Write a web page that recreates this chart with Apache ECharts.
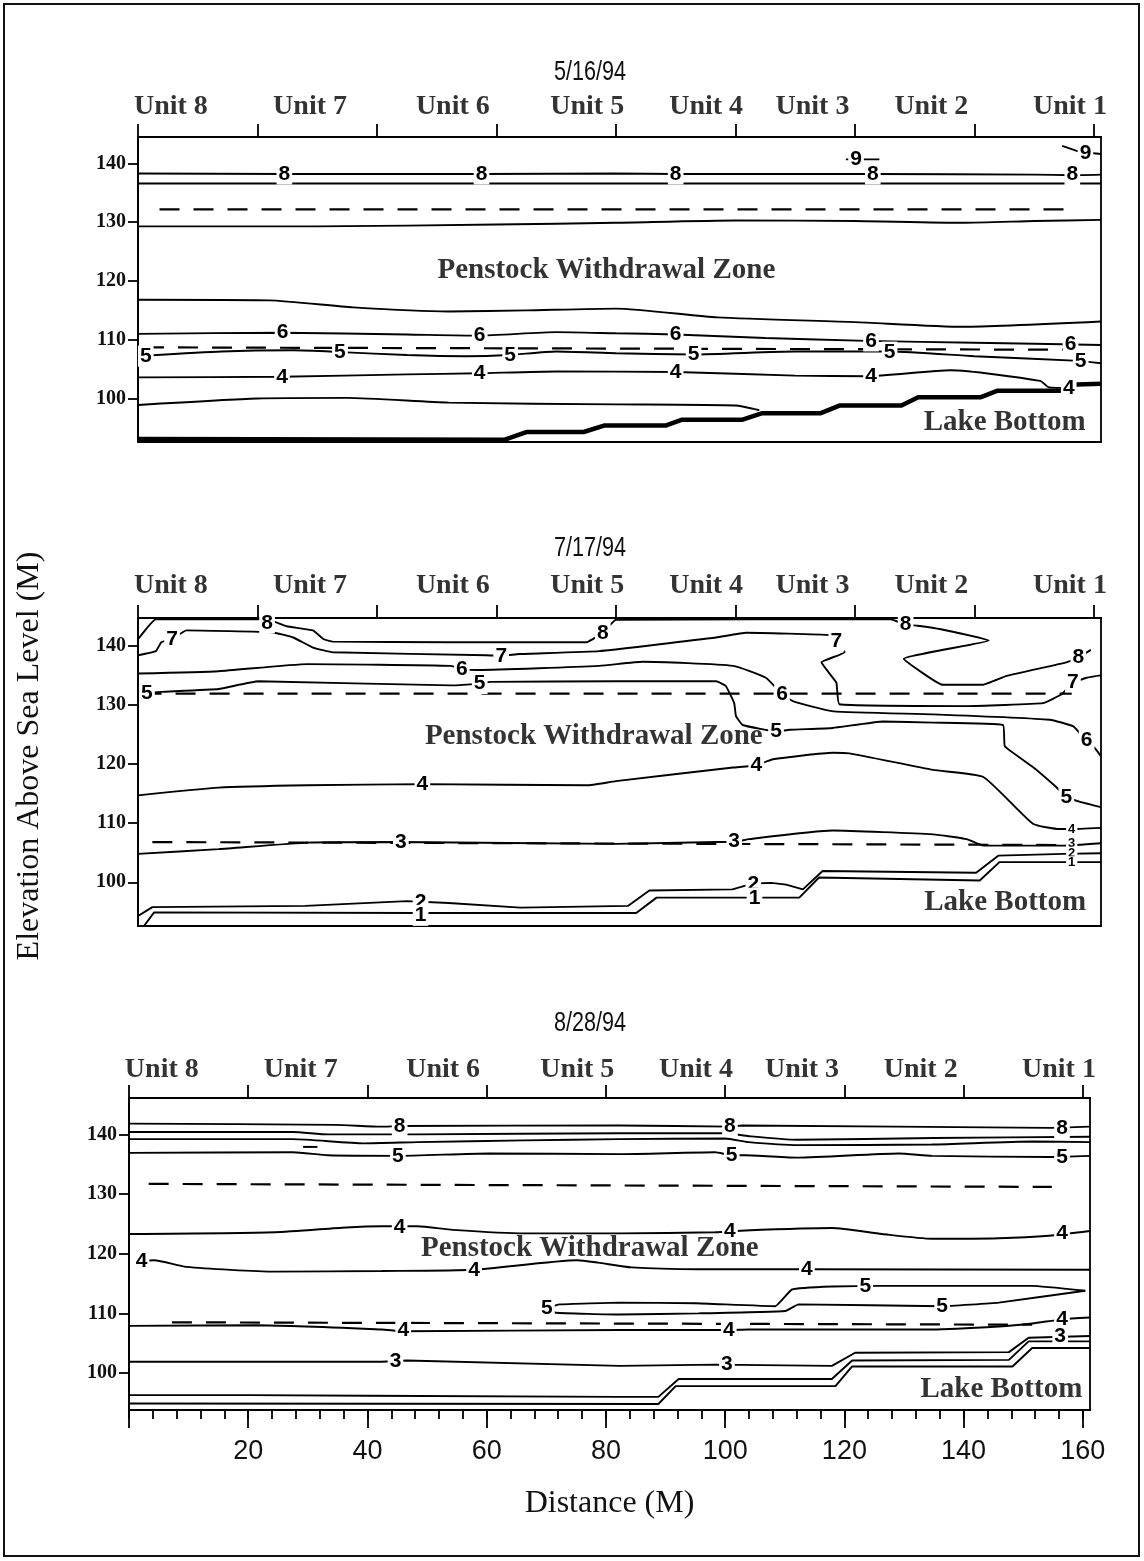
<!DOCTYPE html>
<html><head><meta charset="utf-8">
<script src="https://cdn.jsdelivr.net/npm/echarts@6/dist/echarts.min.js"></script>
<style>html,body{margin:0;padding:0;background:#fff}#c{width:1144px;height:1561px}</style>
</head><body><div id="c"></div>
<script>
// ---------------- DATA ----------------
const X_MAX = 161.2;
const unitNames = ['Unit 8','Unit 7','Unit 6','Unit 5','Unit 4','Unit 3','Unit 2','Unit 1'];
const unitPos = [5.5, 28.8, 52.7, 75.2, 95.1, 112.9, 132.8, 156.0];
const panelTitles = ['5/16/94','7/17/94','8/28/94'];
const yTicks = [100,110,120,130,140];
const topTicks = [0,20,40,60,80,100,120,140,160];
const bottomMajor = [0,20,40,60,80,100,120,140,160];
const bottomLabels = [20,40,60,80,100,120,140,160];
const bottomMinor = [0,4,8,12,16,20,24,28,32,36,40,44,48,52,56,60,64,68,72,76,80,84,88,92,96,100,104,108,112,116,120,124,128,132,136,140,144,148,152,156,160];

// Panel 1 : 5/16/94
const p1_line8 = [[0,138.3],[24.5,138.2],[57.5,138.2],[80,138.3],[90,138.2],[123,138.2],[150,138.1],[156.4,138.0],[161.2,138.1]];
const p1_line137 = [[0,136.6],[161.2,136.6]];
const p1_line130 = [[0,129.3],[30,129.3],[60,129.6],[80,129.9],[100,130.3],[120,130.2],[138,129.9],[150,130.2],[161.2,130.4]];
const p1_line116 = [[0,116.8],[22,116.7],[36,115.5],[52,114.8],[65,115.0],[80,115.3],[97,113.8],[120,113.0],[138,112.2],[161.2,113.1]];
const p1_line6 = [[0,111.0],[24,111.2],[45,110.9],[57,110.7],[70,111.3],[80,111.1],[90,110.9],[105,110.3],[122,109.8],[140,109.5],[161.2,109.1]];
const p1_line5 = [[1.5,107.3],[14,108.0],[26,108.2],[34,107.9],[45,107.4],[55,107.2],[62,107.4],[70,108.0],[80,107.7],[93,107.5],[110,108.0],[126,108.0],[140,107.2],[157.5,106.4],[161.2,106.0]];
const p1_line4 = [[0,103.6],[24,103.7],[45,104.1],[57,104.3],[70,104.6],[90,104.5],[110,103.9],[122,103.8],[136,104.8],[151,103.0],[152.5,101.9],[156,101.8]];
const p1_line99 = [[0,98.9],[20,100.0],[35,100.1],[52,99.3],[80,99.0],[100,98.8],[104,98.0]];
const p1_line9a = [[118.5,140.7],[124.1,140.7]];
const p1_line9b = [[154.7,143.0],[157.5,142.0],[161.2,141.6]];
const p1_dashUpper = [[3.6,132.2],[155.5,132.2]];
const p1_dashLower = [[1,108.7],[157,108.3]];
const p1_bottom = [[0,93.1],[61.4,93.0],[65,94.3],[74.6,94.3],[78,95.4],[88.3,95.4],[91.1,96.4],[101.2,96.4],[104.5,97.5],[114.3,97.5],[117.4,98.8],[127.8,98.8],[130.6,100.2],[141,100.2],[143.8,101.3],[154.4,101.3],[157.2,102.4],[161.2,102.5]];
const p1_bottom2 = [[0,92.75],[62,92.75]];
const p1_labels = [
  [24.5,138.2,'8'],[57.5,138.2,'8'],[90,138.2,'8'],[123,138.2,'8'],[156.4,138.1,'8'],
  [120.2,140.7,'9'],[158.6,141.8,'9'],
  [24.2,111.2,'6'],[57.2,110.8,'6'],[90,110.9,'6'],[122.7,109.8,'6'],[156.1,109.2,'6'],
  [1.3,107.2,'5'],[33.8,107.8,'5'],[62.3,107.4,'5'],[93,107.5,'5'],[125.8,107.9,'5'],[157.8,106.3,'5'],
  [24.1,103.7,'4'],[57.2,104.3,'4'],[90,104.5,'4'],[122.7,103.8,'4'],[155.8,101.8,'4']
];

// Panel 2 : 7/17/94
const p2_line8 = [[0,141.1],[3,144.5],[21.6,144.5],[24.9,143.3],[29.3,142.6],[31.1,141.1],[32.6,140.7],[52,140.6],[75.1,140.6],[77.8,142.2],[80,144.4],[126,144.5],[128.5,143.6],[130.5,143.4],[134.4,142.8],[142.4,140.9],[128.2,137.8],[134.7,133.4],[141.4,133.4],[145.4,134.9],[155.4,137.2],[157.4,138.0],[159.5,139.3]];
const p2_line7 = [[0,138.4],[3,139.1],[3.9,140.6],[5.7,141.1],[8.1,142.6],[22.5,142.3],[26,141.4],[29.3,139.7],[32.6,138.9],[58.4,138.4],[60.8,138.3],[63.8,138.6],[77.2,139.1],[96.8,141.4],[101.8,142.2],[115.8,141.8],[116.9,140.6],[118.3,138.9],[114.4,137.2],[116.9,133.75],[117.4,130.1],[138.7,129.8],[151.5,130.3],[154.6,131.8],[156.5,133.75],[158.8,134.6],[161.2,135.0]];
const p2_line6 = [[0,135.3],[13.5,135.7],[28.4,136.9],[52.4,136.6],[54.2,136.0],[56.9,135.9],[77.2,136.6],[84.5,137.3],[99.6,136.6],[105.1,134.6],[107.8,131.8],[109.7,130.6],[116.4,128.9],[133.1,128.4],[152.6,127.5],[156.5,126.4],[157.7,125.2],[158.8,124.1],[160.4,122.4],[161.2,121.3]];
const p2_line5 = [[1.5,132.0],[3.9,132.2],[13.5,132.7],[20.1,134.0],[52.4,133.3],[57.2,133.6],[59,133.9],[80,134.0],[96.8,134.0],[98.4,133.2],[99.8,130.3],[100.1,128.1],[101.2,126.6],[106.8,125.5],[109.1,125.8],[116.3,126.1],[124.7,127.2],[133.1,127.0],[144.8,126.6],[145.1,123.0],[149.8,119.5],[153.7,116.1],[155.4,114.4],[157.7,113.6],[161.2,112.7]];
const p2_line4 = [[0,114.7],[13.5,116.0],[28.4,116.4],[47.6,116.6],[75.1,116.4],[80,117.1],[99.6,119.4],[103.5,119.8],[106.3,120.8],[116.3,121.9],[119.1,121.8],[133.1,119.0],[141.5,117.8],[149.8,109.9],[154.3,109.0],[156,109.0],[161.2,109.2]];
const p2_line3 = [[0,104.8],[13.5,105.6],[28.4,106.7],[44,106.8],[80,106.5],[96.8,106.8],[99.8,106.8],[102.3,107.3],[116.3,108.75],[133.1,108.1],[138.7,107.3],[141.5,106.2],[154.9,106.2],[161.2,106.6]];
const p2_line2 = [[0,94.3],[2.4,95.8],[28,96.0],[45,96.8],[52,96.5],[64,95.7],[82,96.0],[85.6,98.6],[99.5,98.8],[103,99.8],[106,99.9],[108.5,99.6],[111.3,98.8],[114.6,101.9],[140.3,101.6],[144,104.5],[155,104.8],[161.2,104.9]];
const p2_line1 = [[1,92.6],[2.7,94.9],[47.3,94.8],[83.4,94.8],[86.8,97.4],[110.7,97.4],[114,100.8],[140.9,100.3],[144.2,103.4],[161.2,103.4]];
const p2_dashUpper = [[0.6,131.9],[156.3,131.9]];
const p2_dashLower = [[2.4,106.8],[155,106.3]];
const p2_labels = [
  [21.6,143.9,'8'],[77.8,142.2,'8'],[128.5,143.6,'8'],[157.4,138.1,'8'],
  [5.7,141.1,'7'],[60.8,138.3,'7'],[116.9,140.8,'7'],[156.5,133.9,'7'],
  [54.2,136.1,'6'],[107.8,131.8,'6'],[158.8,124.1,'6'],
  [1.5,132.0,'5'],[57.2,133.6,'5'],[106.8,125.5,'5'],[155.4,114.4,'5'],
  [47.6,116.6,'4'],[103.5,119.8,'4'],
  [44,106.8,'3'],[99.8,106.9,'3'],
  [47.3,96.7,'2'],[103,99.7,'2'],
  [47.3,94.4,'1'],[103.2,97.3,'1']
];
const p2_stackLabels = [[156.3,109.0,'4'],[156.3,106.6,'3'],[156.3,104.9,'2'],[156.3,103.3,'1']];

// Panel 3 : 8/28/94
const p3_line8 = [[0,141.8],[34.6,141.6],[42.4,141.3],[45.4,141.4],[82.3,141.5],[100.8,141.3],[102.8,141.5],[154.3,141.1],[161.2,141.3]];
const p3_line140 = [[0,140.4],[27.5,140.4],[33.4,140.0],[48.4,140.0],[82.3,140.2],[100,140.2],[104,139.7],[112,139.1],[135,139.4],[161.2,139.6]];
const p3_line139 = [[0,139.2],[27.5,139.2],[39.4,138.5],[48.4,138.7],[66.3,139.0],[82.3,139.2],[100,139.3],[103.9,138.7],[112.3,138.2],[134.7,138.3],[151.5,138.8],[161.2,138.7]];
const p3_lineTiny = [[29.2,137.9],[31.6,137.9]];
const p3_line5 = [[0,136.9],[27.5,137.0],[33.4,136.5],[45.1,136.4],[60.3,136.8],[82.3,136.7],[98.3,137.0],[101.1,136.5],[103.4,136.5],[112.3,136.1],[129.1,136.8],[134.7,136.4],[154.3,136.2],[161.2,136.4]];
const p3_line4a = [[0,123.3],[24.5,123.6],[36.4,124.4],[42.4,124.6],[48.4,124.6],[54.3,124.0],[66.3,123.4],[82.3,123.4],[98.3,123.6],[103.4,123.9],[117.9,124.3],[126.3,123.3],[134.7,122.5],[145.9,122.6],[154.3,123.0],[161.2,123.8]];
const p3_line4b = [[2.1,118.8],[4.2,118.9],[9.6,117.8],[24.5,117.0],[42.4,117.1],[57.9,117.3],[75.2,118.9],[78.7,118.5],[84.3,117.7],[95.5,117.4],[113.7,117.4],[161.2,117.3]];
const p3_line5up = [[70.1,110.8],[72.2,111.5],[82.3,111.8],[95,111.7],[108.4,111.2],[111.2,114.0],[117.9,114.5],[126.3,114.6],[151.5,114.6],[160.4,113.8]];
const p3_line5lo = [[70.1,110.8],[71.6,110.1],[82.3,109.8],[95.5,110.0],[110.1,110.4],[112.3,111.5],[136.4,111.2],[145.9,111.8],[160.4,113.8]];
const p3_line4c = [[0,107.9],[21.5,108.0],[42.4,107.3],[46,107.0],[82.3,107.2],[100.6,107.2],[103.9,107.3],[134.7,107.3],[145.9,107.8],[151.5,108.3],[156.5,109.0],[161.2,109.3]];
const p3_line3 = [[0,101.9],[42.4,101.9],[46.6,102.1],[82.3,101.2],[98.3,101.4],[117.9,101.2],[121.8,103.4],[147.6,103.5],[150.9,105.9],[161.2,106.2]];
const p3_bottomA = [[0,96.3],[20,96.3],[40,96.2],[82,96.0],[88.8,96.0],[92.2,99.0],[117.9,99.0],[121.3,102.1],[147.6,102.2],[150.9,105.3],[161.2,105.3]];
const p3_bottomB = [[0,94.9],[88.8,94.8],[91.7,97.8],[118.5,97.8],[121.3,101.1],[148.2,101.1],[151.5,104.2],[161.2,104.2]];
const p3_dashUpper = [[3.3,131.7],[154.8,131.2]];
const p3_dashLower = [[7.2,108.5],[151.5,108.1]];
const p3_labels = [
  [45.4,141.4,'8'],[100.8,141.4,'8'],[156.5,141.1,'8'],
  [45.1,136.4,'5'],[101.1,136.5,'5'],[156.5,136.2,'5'],
  [45.4,124.5,'4'],[100.8,123.7,'4'],[156.5,123.4,'4'],
  [2.1,118.8,'4'],[57.9,117.3,'4'],[113.7,117.4,'4'],
  [70.1,110.8,'5'],[123.5,114.5,'5'],[136.4,111.2,'5'],
  [46,107.1,'4'],[100.6,107.2,'4'],[156.5,109.0,'4'],
  [44.7,101.9,'3'],[100.3,101.4,'3'],[156.2,106.2,'3']
];

// annotations [x, y]
const zoneText = [[78.4,121.8],[76.3,124.7],[77.3,120.9]];
const lakeText = [[158.7,95.9],[158.8,96.6],[160.0,97.3]];

// ---------------- LAYOUT ----------------
const SERIF = 'Liberation Serif', SANS = 'Liberation Sans';
const grids = [
  {left:138, top:137, width:963, height:305},
  {left:138, top:618, width:963, height:308},
  {left:129, top:1098, width:961, height:312}
];
const yRanges = [[92.6,144.5],[92.6,144.7],[93.8,146.1]];
const unitDist = [16, 18, 14];
const titleY = [73, 549, 1024];

// ---------------- BUILD ----------------
const series = [];
function addLine(data, p, o) {
  o = o || {};
  series.push({
    type:'line', xAxisIndex:p*2, yAxisIndex:p, data:data, symbol:'none',
    smooth: o.smooth === undefined ? 0.2 : o.smooth,
    lineStyle:{color:'#000', width:o.width || 1.9, type:o.type || 'solid', cap:'butt'},
    silent:true, animation:false, z:2, clip:false
  });
}
function addLabels(arr, p, size) {
  const fs = size || 21;
  series.push({
    type:'scatter', xAxisIndex:p*2, yAxisIndex:p, symbolSize:1,
    itemStyle:{color:'rgba(0,0,0,0)'}, silent:true, animation:false, z:6, clip:false,
    data: arr.map(a => ({value:[a[0],a[1]], name:a[2]})),
    label:{show:true, position:'inside', formatter:'{b}', fontFamily:SANS, fontWeight:'bold',
      fontSize:fs, lineHeight:fs, color:'#000', opacity:1, textBorderWidth:0, backgroundColor:'#fff', padding:[0,2]}
  });
}
const DASH = {type:[20,14], width:2.2, smooth:false};

addLine(p1_line8,0); addLine(p1_line137,0); addLine(p1_line130,0); addLine(p1_line116,0);
addLine(p1_line6,0); addLine(p1_line5,0); addLine(p1_line4,0); addLine(p1_line99,0);
addLine(p1_line9a,0,{smooth:false}); addLine(p1_line9b,0,{smooth:false});
addLine(p1_dashUpper,0,DASH); addLine(p1_dashLower,0,DASH);
addLine(p1_bottom,0,{smooth:false,width:4.5}); addLine(p1_bottom2,0,{smooth:false,width:2});
addLabels(p1_labels,0);

addLine(p2_line8,1,{smooth:0.1}); addLine(p2_line7,1,{smooth:0.1}); addLine(p2_line6,1,{smooth:0.15});
addLine(p2_line5,1,{smooth:0.1}); addLine(p2_line4,1,{smooth:0.15}); addLine(p2_line3,1,{smooth:0.15});
addLine(p2_line2,1,{smooth:false}); addLine(p2_line1,1,{smooth:false});
addLine(p2_dashUpper,1,DASH); addLine(p2_dashLower,1,DASH);
addLabels(p2_labels,1); addLabels(p2_stackLabels,1,13);

addLine(p3_line8,2); addLine(p3_line140,2); addLine(p3_line139,2); addLine(p3_lineTiny,2,{smooth:false,width:2});
addLine(p3_line5,2); addLine(p3_line4a,2); addLine(p3_line4b,2);
addLine(p3_line5up,2,{smooth:0.1}); addLine(p3_line5lo,2,{smooth:0.1});
addLine(p3_line4c,2); addLine(p3_line3,2,{smooth:false});
addLine(p3_bottomA,2,{smooth:false}); addLine(p3_bottomB,2,{smooth:false});
addLine(p3_dashUpper,2,DASH); addLine(p3_dashLower,2,DASH);
addLabels(p3_labels,2);

const textLbl = {textBorderWidth:0, color:'#000', fontFamily:SERIF, fontWeight:'bold'};
for (let p = 0; p < 3; p++) {
  series.push({
    type:'scatter', xAxisIndex:p*2, yAxisIndex:p, symbolSize:1, itemStyle:{color:'rgba(0,0,0,0)'},
    silent:true, animation:false, clip:false, z:6,
    data: unitPos.map((u,i) => ({value:[u, yRanges[p][1]], name:unitNames[i]})),
    label:Object.assign({show:true, position:'top', distance:unitDist[p], formatter:'{b}', fontSize:28}, textLbl)
  });
  series.push({
    type:'scatter', xAxisIndex:p*2, yAxisIndex:p, symbolSize:1, itemStyle:{color:'rgba(0,0,0,0)'},
    silent:true, animation:false, clip:false, z:7,
    data:[{value:zoneText[p], name:'Penstock Withdrawal Zone'}],
    label:Object.assign({show:true, position:'inside', formatter:'{b}', fontSize:29}, textLbl)
  });
  series.push({
    type:'scatter', xAxisIndex:p*2, yAxisIndex:p, symbolSize:1, itemStyle:{color:'rgba(0,0,0,0)'},
    silent:true, animation:false, clip:false, z:7,
    data:[{value:lakeText[p], name:'Lake Bottom'}],
    label:Object.assign({show:true, position:'left', distance:0, formatter:'{b}', fontSize:29}, textLbl)
  });
}

const xAxis = [], yAxis = [];
for (let p = 0; p < 3; p++) {
  const isLast = p === 2;
  xAxis.push({
    type:'value', gridIndex:p, min:0, max:X_MAX, position:'bottom',
    axisLine:{show:isLast, lineStyle:{color:'#000', width:1.8}},
    axisTick:{show:isLast, customValues:bottomMajor, length:18, lineStyle:{color:'#000', width:1.8}},
    axisLabel:{show:isLast, customValues:bottomLabels, fontFamily:SANS, fontSize:27, color:'#111', margin:28},
    splitLine:{show:false},
    name: isLast ? 'Distance (M)' : '', nameLocation:'middle', nameGap:78,
    nameTextStyle:{fontFamily:SERIF, fontSize:32, color:'#111'}
  });
  xAxis.push({
    type:'value', gridIndex:p, min:0, max:X_MAX, position:'top',
    axisLine:{show:true, lineStyle:{color:'#000', width:1.8}},
    axisTick:{show:true, customValues:topTicks, length:13, lineStyle:{color:'#000', width:1.8}},
    axisLabel:{show:false}, splitLine:{show:false}
  });
  yAxis.push({
    type:'value', gridIndex:p, min:yRanges[p][0], max:yRanges[p][1],
    axisLine:{show:true, lineStyle:{color:'#000', width:1.8}},
    axisTick:{show:true, customValues:yTicks, length:10, lineStyle:{color:'#000', width:1.8}},
    axisLabel:{show:true, customValues:yTicks, fontFamily:SERIF, fontWeight:'bold', fontSize:20, color:'#111', margin:12},
    splitLine:{show:false}
  });
}
xAxis.push({
  type:'value', gridIndex:2, min:0, max:X_MAX, position:'bottom',
  axisLine:{show:false},
  axisTick:{show:true, customValues:bottomMinor, length:9, lineStyle:{color:'#000', width:1.8}},
  axisLabel:{show:false}, splitLine:{show:false}
});

const graphic = [
  {type:'rect', shape:{x:4, y:4, width:1135, height:1552}, style:{fill:'none', stroke:'#111', lineWidth:2}, silent:true},
  {type:'text', x:30, y:756, rotation:Math.PI/2, style:{text:'Elevation Above Sea Level (M)', font:'32px "Liberation Serif"', fill:'#111', align:'center', verticalAlign:'middle'}}
];
panelTitles.forEach((t,i) => graphic.push({type:'text', x:590, y:titleY[i], scaleX:0.8,
  style:{text:t, font:'27px "Liberation Sans"', fill:'#111', align:'center', verticalAlign:'middle'}}));

const chart = echarts.init(document.getElementById('c'), null, {renderer:'canvas'});
chart.setOption({
  animation:false,
  backgroundColor:'#fff',
  grid: grids.map(g => Object.assign({show:true, borderColor:'#000', borderWidth:1.8, backgroundColor:'transparent'}, g)),
  xAxis: xAxis,
  yAxis: yAxis,
  series: series,
  graphic: graphic
});
</script></body></html>
